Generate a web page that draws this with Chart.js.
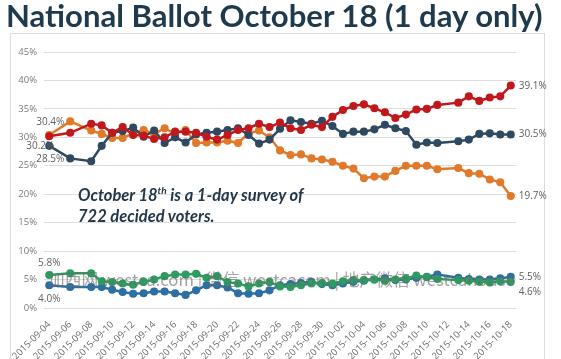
<!DOCTYPE html>
<html>
<head>
<meta charset="utf-8">
<script src="https://cdn.jsdelivr.net/npm/chart.js@4/dist/chart.umd.min.js"></script>
<style>
  html,body{margin:0;padding:0;background:#fff;width:561px;height:359px;overflow:hidden;position:relative;}
  #title{position:absolute;left:6px;top:0px;font-family:Lato,"Open Sans",sans-serif;font-weight:bold;color:#1f3a4d;white-space:nowrap;line-height:1;}
  #frame{position:absolute;left:10px;top:33px;width:535px;height:340px;border:1px solid #dcdcdc;box-sizing:border-box;}
  #c{position:absolute;left:0;top:0;}
  #note{position:absolute;left:78px;top:185px;font-family:Lato,"Open Sans",sans-serif;font-weight:bold;font-style:italic;color:#22384a;font-size:16.5px;line-height:21px;white-space:nowrap;}
  #note sup{font-size:10px;line-height:0;vertical-align:7px;}
  #wm{position:absolute;left:48px;top:271px;font-family:"Noto Sans CJK SC","Noto Sans",sans-serif;color:rgba(105,105,105,0.62);font-size:17px;white-space:nowrap;line-height:1;}
</style>
</head>
<body>
<div id="frame"></div>
<canvas id="c" width="561" height="359"></canvas>
<div id="title">National Ballot October 18 (1 day only)</div>
<div id="note">October 18<sup>th</sup> is a 1-day survey of<br>722 decided voters.</div>
<div id="wm">加西网 westca.com | 微信 westcacom | 地产微信 westcahouse</div>
<script>
// ---- data ----
const dates = [
 "2015-09-04","2015-09-05","2015-09-06","2015-09-07","2015-09-08","2015-09-09","2015-09-10","2015-09-11",
 "2015-09-12","2015-09-13","2015-09-14","2015-09-15","2015-09-16","2015-09-17","2015-09-18","2015-09-19",
 "2015-09-20","2015-09-21","2015-09-22","2015-09-23","2015-09-24","2015-09-25","2015-09-26","2015-09-27",
 "2015-09-28","2015-09-29","2015-09-30","2015-10-01","2015-10-02","2015-10-03","2015-10-04","2015-10-05",
 "2015-10-06","2015-10-07","2015-10-08","2015-10-09","2015-10-10","2015-10-11","2015-10-12","2015-10-13",
 "2015-10-14","2015-10-15","2015-10-16","2015-10-17","2015-10-18"];
const yTicks = [0,5,10,15,20,25,30,35,40,45];
const liberal = [30.2,null,30.8,null,32.4,32.1,30.8,31.8,30.4,30.3,29.7,30.0,31.0,31.0,30.8,30.1,29.6,30.4,31.3,31.6,
 32.4,31.8,32.6,31.6,31.3,32.2,31.8,33.6,34.8,35.5,35.8,35.1,34.4,33.4,34.0,34.9,35.0,35.7,null,36.1,37.2,36.4,37.0,37.2,39.1];
const conservative = [28.5,null,26.3,null,25.8,28.5,30.8,31.1,31.7,30.1,31.2,29.0,30.0,29.1,30.5,30.8,31.0,31.3,31.6,30.4,
 28.9,29.6,31.5,33.0,32.7,32.4,32.9,32.0,30.6,31.0,31.0,31.4,32.2,31.6,31.1,28.7,29.1,29.0,null,29.3,29.6,30.6,30.7,30.5,30.5];
const ndp = [30.4,null,32.8,null,31.2,30.6,29.9,29.9,30.7,31.3,30.6,31.6,30.6,31.3,29.0,29.1,29.1,29.4,29.0,30.7,
 31.2,30.0,27.7,26.9,27.0,26.3,26.1,25.7,25.0,24.5,22.8,23.1,23.1,24.1,25.0,25.0,25.0,24.4,null,24.6,23.7,23.6,22.6,22.1,19.7];
const green = [5.8,null,6.1,null,6.1,4.7,4.55,4.3,4.1,4.6,5.0,5.6,5.9,5.9,6.0,5.3,5.6,4.55,4.3,3.8,
 4.3,4.55,3.8,3.7,4.0,4.3,4.4,4.3,4.7,4.9,4.9,5.0,4.8,5.0,5.2,5.7,5.4,5.1,null,4.9,4.8,4.6,4.5,4.7,4.6];
const bloc = [4.0,null,3.7,null,3.7,3.7,3.2,2.8,2.5,2.6,2.9,2.9,2.6,2.3,3.1,4.0,4.0,3.6,2.6,2.5,
 2.6,3.1,4.0,4.2,4.4,4.6,4.2,4.0,4.3,4.6,4.8,5.0,5.2,4.9,5.0,5.3,5.5,5.9,null,5.3,5.1,5.0,5.0,5.2,5.5];

// fit title width
(function(){
  const t=document.getElementById('title');
  const ctx=document.createElement('canvas').getContext('2d');
  ctx.font='bold 100px Lato';
  const w=ctx.measureText(t.textContent).width;
  t.style.fontSize=(100*538/w).toFixed(2)+'px';
  const wm=document.getElementById('wm');
  ctx.font='17px "Noto Sans CJK SC"';
  const w2=ctx.measureText(wm.textContent).width;
  wm.style.fontSize=(17*467/w2).toFixed(2)+'px';
})();

const colors = {lib:'#c0181d', con:'#2f4a60', ndp:'#e07a2a', grn:'#2b9e5f', blq:'#2e6fa3'};
function ds(data,color){
  return {data:data,borderColor:color,backgroundColor:color,pointBackgroundColor:color,pointBorderColor:color,
    borderWidth:2.5,pointRadius:2.8,pointHoverRadius:2.8,tension:0,spanGaps:true};
}

const labelPlugin = {
  id:'endLabels',
  afterDatasetsDraw(chart){
    const ctx=chart.ctx;
    const pt=(d,i)=>chart.getDatasetMeta(d).data[i];
    ctx.save();
    ctx.font='10px "Open Sans", sans-serif';
    ctx.fillStyle='#5f5f5f';
    ctx.textBaseline='middle';
    const last=dates.length-1;
    const put=(d,i,text,dx,dy,align)=>{const p=pt(d,i);ctx.textAlign=align;ctx.fillText(text,p.x+dx,p.y+dy);};
    // left labels
    put(2,0,ndp[0].toFixed(1)+'%',1,-13,'center');
    put(0,0,liberal[0].toFixed(1)+'%',5,10,'right');
    put(1,0,conservative[0].toFixed(1)+'%',1,13,'center');
    put(3,0,green[0].toFixed(1)+'%',0,-12,'center');
    put(4,0,bloc[0].toFixed(1)+'%',0,14,'center');
    // right labels
    put(0,last,liberal[last].toFixed(1)+'%',8,1,'left');
    put(1,last,conservative[last].toFixed(1)+'%',8,0,'left');
    put(2,last,ndp[last].toFixed(1)+'%',8,0,'left');
    put(4,last,bloc[last].toFixed(1)+'%',8,0,'left');
    put(3,last,green[last].toFixed(1)+'%',8,10,'left');
    ctx.restore();
  }
};

new Chart(document.getElementById('c'),{
  type:'line',
  data:{labels:dates,datasets:[ds(liberal,colors.lib),ds(conservative,colors.con),ds(ndp,colors.ndp),ds(green,colors.grn),ds(bloc,colors.blq)]},
  options:{
    responsive:false,animation:false,devicePixelRatio:1,
    layout:{padding:{top:52,left:0,right:45,bottom:0}},
    plugins:{legend:{display:false},tooltip:{enabled:false},title:{display:false}},
    scales:{
      x:{type:'category',offset:true,
        grid:{display:false},border:{display:false},
        afterFit(s){s.height=51;},
        ticks:{autoSkip:false,minRotation:45,maxRotation:45,padding:3,color:'#6f6f6f',
          font:{family:'"Open Sans", sans-serif',size:9.5},
          callback(v,i){return i%2===0?dates[i]:'';}}
      },
      y:{min:0,max:45,
        afterFit(s){s.width=44;},
        afterBuildTicks(s){s.ticks=yTicks.map(v=>({value:v}));},
        grid:{color:'#dedede',lineWidth:1,drawTicks:false},border:{display:false},
        ticks:{padding:7,color:'#7a7a7a',font:{family:'"Open Sans", sans-serif',size:9.5},callback:v=>v+'%'}
      }
    }
  },
  plugins:[labelPlugin]
});
</script>
</body>
</html>
